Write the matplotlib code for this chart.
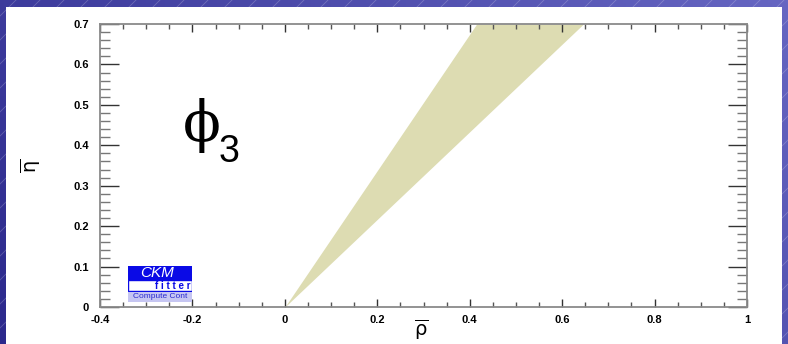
import matplotlib
matplotlib.use("Agg")
import matplotlib.pyplot as plt
import numpy as np
from matplotlib.patches import Rectangle

# phi3 allowed band in the (rho-bar, eta-bar) plane, edges read at the top of the frame
band_eta = [0.0, 0.7]
band_rho_low = [0.0, 0.415]
band_rho_high = [0.0, 0.646]

x_ticks = [-0.4, -0.2, 0, 0.2, 0.4, 0.6, 0.8, 1]
x_tick_labels = ["-0.4", "-0.2", "0", "0.2", "0.4", "0.6", "0.8", "1"]
y_ticks = [0, 0.1, 0.2, 0.3, 0.4, 0.5, 0.6, 0.7]
y_tick_labels = ["0", "0.1", "0.2", "0.3", "0.4", "0.5", "0.6", "0.7"]

W, H = 788, 344
fig = plt.figure(figsize=(W / 100, H / 100), dpi=100)

# slide background: blue gradient with thin diagonal streaks
bg = fig.add_axes([0, 0, 1, 1])
bg.set_xlim(0, W)
bg.set_ylim(0, H)
bg.axis("off")
gx, gy = np.meshgrid(np.linspace(0, 1, 200), np.linspace(1, 0, 100))
g = 0.7 * gx + 0.3 * gy
c0 = np.array([0.17, 0.16, 0.55])
c1 = np.array([0.40, 0.40, 0.76])
img = c0 + g[..., None] * (c1 - c0)
bg.imshow(img, extent=[0, W, 0, H], aspect="auto", zorder=0)
for x0 in np.arange(-400, W + 50, 24):
    bg.plot([x0, x0 + 400], [0, 400], color="white", alpha=0.22, lw=0.6, zorder=1)
bg.add_patch(Rectangle((6, 0), 776, H - 7, facecolor="white", edgecolor="none", zorder=2))

ax = fig.add_axes([100 / W, 1 - 307 / H, 647 / W, 283 / H])
ax.fill_betweenx(band_eta, band_rho_low, band_rho_high, color="#dddcb2", linewidth=0)
ax.set_xlim(-0.4, 1)
ax.set_ylim(0, 0.7)

ax.set_xticks(x_ticks)
ax.set_xticklabels(x_tick_labels)
ax.set_yticks(y_ticks)
ax.set_yticklabels(y_tick_labels)
ax.set_xticks(np.arange(-0.4, 1.001, 0.05), minor=True)
ax.set_yticks(np.arange(0, 0.701, 0.02), minor=True)
ax.tick_params(axis="x", which="major", direction="in", length=6, width=1, color="#333333",
               top=True, pad=6)
ax.tick_params(axis="x", which="minor", direction="in", length=3.5, width=1, color="#555555", top=True)
ax.tick_params(axis="y", which="major", direction="in", length=14, width=1, color="#333333",
               right=True, pad=8)
ax.tick_params(axis="y", which="minor", direction="in", length=7, width=1, color="#777777", right=True)
for lab in ax.get_xticklabels() + ax.get_yticklabels():
    lab.set_fontfamily("Liberation Sans")
    lab.set_fontweight("bold")
    lab.set_fontsize(8)
for sp in ax.spines.values():
    sp.set_color("#8a8a8a")
    sp.set_linewidth(1.3)

# axis titles placed in figure pixels
fig.text(421 / W, 1 - 330 / H, r"$\overline{\mathrm{\rho}}$", fontsize=14,
         math_fontfamily="dejavusans", ha="center", va="center")
fig.text(31 / W, 1 - 166 / H, r"$\overline{\mathrm{\eta}}$", fontsize=14, rotation=90,
         math_fontfamily="dejavusans", ha="center", va="center")

ax.text(0.158, 0.64, "ϕ", transform=ax.transAxes, fontsize=40, family="DejaVu Serif",
        ha="center", va="center")
ax.text(0.199, 0.549, "3", transform=ax.transAxes, fontsize=27, family="Liberation Sans",
        ha="center", va="center")

# CKMfitter logo in the lower left corner
logo = fig.add_axes([128 / W, 1 - 302 / H, 64 / W, 36 / H])
logo.set_xlim(0, 1)
logo.set_ylim(0, 1)
logo.axis("off")
logo.add_patch(Rectangle((0, 0.6), 1, 0.4, facecolor="#0a0ae6", edgecolor="none"))
logo.add_patch(Rectangle((0, 0.3), 1, 0.3, facecolor="white", edgecolor="#0a0ae6", lw=1))
logo.add_patch(Rectangle((0, 0), 1, 0.29, facecolor="#c6c6f2", edgecolor="none"))
logo.text(0.45, 0.8, "CKM", color="white", style="italic", fontsize=11,
          family="Liberation Sans", ha="center", va="center")
logo.text(0.97, 0.44, "f i t t e r", color="#0a0ae6", fontweight="bold", fontsize=7,
          family="Liberation Sans", ha="right", va="center")
logo.text(0.5, 0.14, "Compute Cont", color="#2a2ad0", fontsize=6,
          family="Liberation Sans", ha="center", va="center")

fig.savefig("out.png", dpi=100)
